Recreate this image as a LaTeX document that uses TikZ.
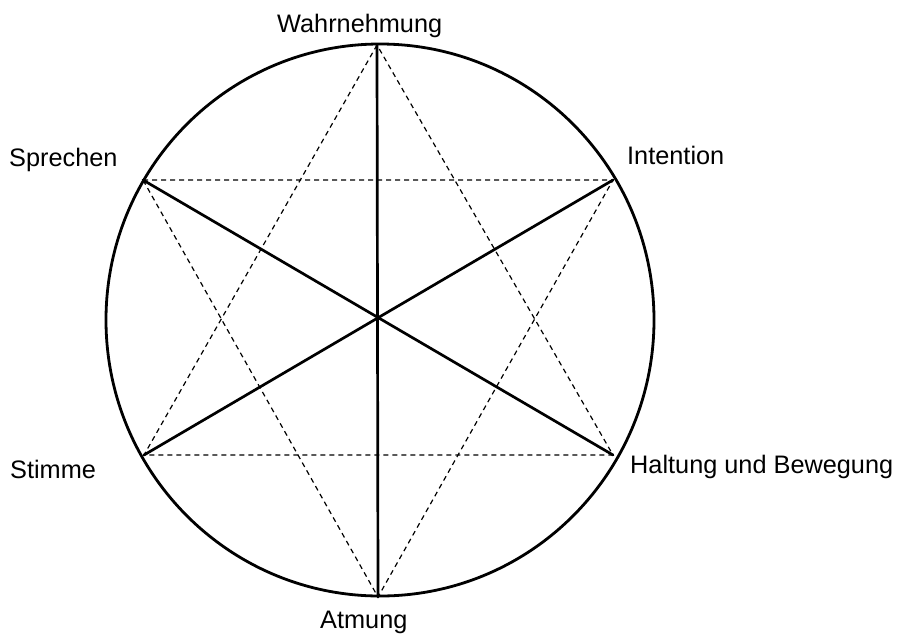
\documentclass[tikz,border=0pt]{standalone}
\usepackage{fontspec}
\setmainfont{Liberation Sans}
\begin{document}
\begin{tikzpicture}[x=1pt,y=-1pt,
  thick line/.style={line width=2.7pt, line cap=round},
  thin dash/.style={line width=1.2pt, dash pattern=on 5pt off 4pt},
  lab/.style={anchor=base west, inner sep=0pt, font=\fontsize{25.3}{30}\selectfont}]
\useasboundingbox (0,0) rectangle (897,633);
\coordinate (T) at (377,45);
\coordinate (B) at (378,597);
\coordinate (SL) at (143,180);
\coordinate (SR) at (613,180);
\coordinate (BL) at (144,455);
\coordinate (BR) at (613,455);
\coordinate (O) at (380,320);
\draw[line width=2.8pt] (O) ellipse [x radius=274, y radius=276];
\draw[thick line] (T) -- (B);
\draw[thick line] (SL) -- (BR);
\draw[thick line] (SR) -- (BL);
\draw[thin dash] (T) -- (BL) -- (BR) -- cycle;
\draw[thin dash] (SL) -- (SR) -- (B) -- cycle;
\node[lab] (w) at (277,32) {Wahrnehmung};
\node[lab] (s) at (9,166) {Sprechen};
\node[lab] (i) at (627,164) {Intention};
\node[lab] (st) at (10,478) {Stimme};
\node[lab] (h) at (630,473) {Haltung und Bewegung};
\node[lab] (a) at (320,628) {Atmung};
\end{tikzpicture}
\end{document}
